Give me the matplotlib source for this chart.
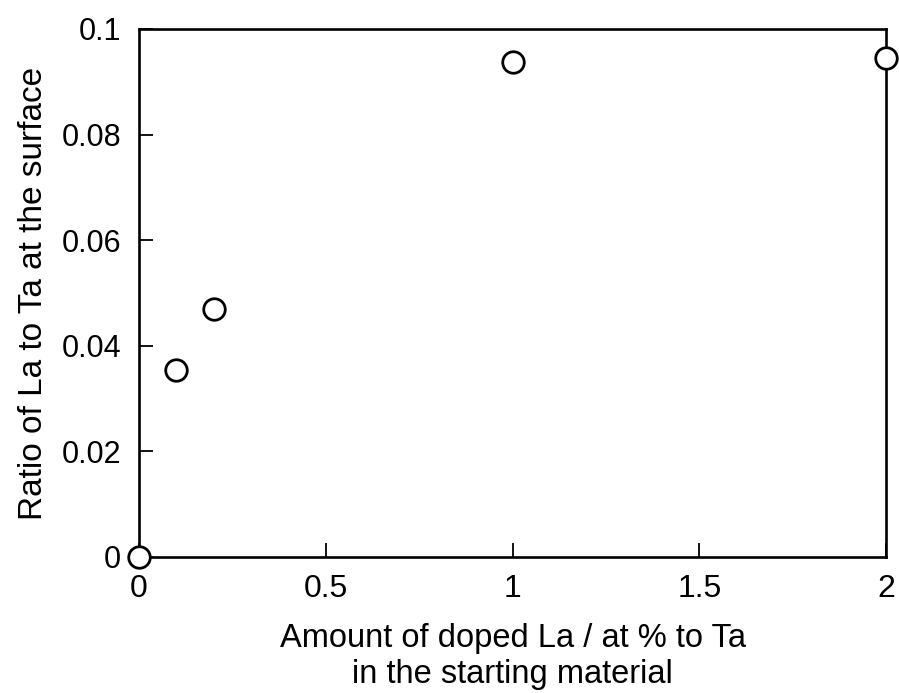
import matplotlib.pyplot as plt

plt.rcParams['font.family'] = ['Liberation Sans', 'DejaVu Sans']

doped_la = [0, 0.1, 0.2, 1, 2]
surface_ratio = [0.0, 0.0355, 0.047, 0.0937, 0.0945]

x_ticks = [0, 0.5, 1, 1.5, 2]
x_labels = ['0', '0.5', '1', '1.5', '2']
y_ticks = [0, 0.02, 0.04, 0.06, 0.08, 0.1]
y_labels = ['0', '0.02', '0.04', '0.06', '0.08', '0.1']

fig = plt.figure(figsize=(8.99, 6.93), dpi=100)
ax = fig.add_axes([139 / 899, 1 - 557 / 693, (886 - 139) / 899, (557 - 29) / 693])

ax.plot(doped_la, surface_ratio, linestyle='none', marker='o', markersize=15.5,
        markerfacecolor='white', markeredgecolor='black', markeredgewidth=2.0,
        clip_on=False, zorder=5)

ax.set_xlim(0, 2)
ax.set_ylim(0, 0.1)
ax.set_xticks(x_ticks)
ax.set_xticklabels(x_labels)
ax.set_yticks(y_ticks)
ax.set_yticklabels(y_labels)

for side in ['top', 'right', 'bottom', 'left']:
    ax.spines[side].set_linewidth(1.9)
ax.tick_params(direction='in', length=10, width=1.3,
               top=False, right=False)
ax.tick_params(axis='x', pad=12, labelsize=23)
ax.tick_params(axis='y', pad=13, labelsize=22)

ax.set_xlabel('Amount of doped La / at % to Ta\nin the starting material',
              fontsize=23.5, linespacing=1.2)
ax.xaxis.set_label_coords(0.5, (557 - 623) / 528)
ax.set_ylabel('Ratio of La to Ta at the surface', fontsize=24, labelpad=9)

fig.savefig('out.png', dpi=100)
